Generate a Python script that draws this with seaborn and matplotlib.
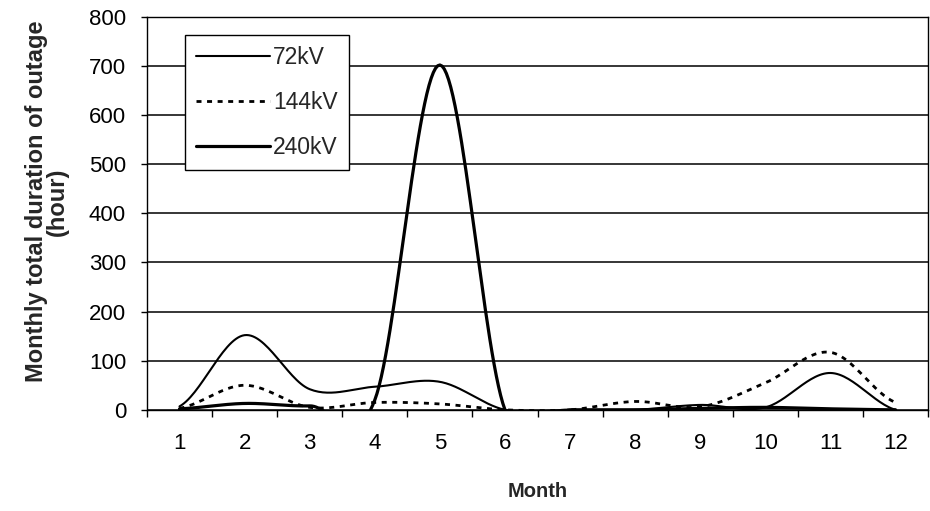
import numpy as np
import pandas as pd
import matplotlib
matplotlib.use("Agg")
import matplotlib.pyplot as plt
from matplotlib.ticker import MultipleLocator, FixedLocator
import seaborn as sns

# Monthly total duration of outage (hours) per voltage level
months = [1, 2, 3, 4, 5, 6, 7, 8, 9, 10, 11, 12]
hours_72kv = [7, 152, 42, 47, 57, 0, 0, 0, 10, 5, 75, 0]
hours_144kv = [3, 50, 5, 15, 12, 0, 0, 17, 6, 55, 117, 15]
hours_240kv = [2, 13, 8, 20, 702, 0, 0, 0, 3, 5, 2, 0]
series_names = ["72kV", "144kV", "240kV"]


def smooth_curve(x, y, steps=30):
    """Cardinal (Catmull-Rom) curve through every point, like a spreadsheet 'smoothed line'."""
    x = np.asarray(x, float)
    y = np.asarray(y, float)
    n = len(y)
    yp = np.concatenate([[y[0]], y, [y[-1]]])
    tangents = (yp[2:] - yp[:-2]) / 2.0
    xs, ys = [], []
    for i in range(n - 1):
        t = np.linspace(0, 1, steps, endpoint=(i == n - 2))
        h00 = 2 * t**3 - 3 * t**2 + 1
        h10 = t**3 - 2 * t**2 + t
        h01 = -2 * t**3 + 3 * t**2
        h11 = t**3 - t**2
        xs.append(x[i] + t * (x[i + 1] - x[i]))
        ys.append(h00 * y[i] + h10 * tangents[i] + h01 * y[i + 1] + h11 * tangents[i + 1])
    return np.concatenate(xs), np.concatenate(ys)


sns.set_theme(style="white")
plt.rcParams["font.family"] = ["Liberation Sans", "DejaVu Sans"]
plt.rcParams["lines.solid_capstyle"] = "round"

fig = plt.figure(figsize=(9.3, 5.11), dpi=100)
ax = fig.add_axes([0.158, 0.198, 0.840, 0.769])

styles = {
    "72kV": dict(lw=1.5, ls="-"),
    "144kV": dict(lw=2.0, ls=(0, (1.8, 2.0))),
    "240kV": dict(lw=2.3, ls="-"),
}
for name, vals in zip(series_names, [hours_72kv, hours_144kv, hours_240kv]):
    sx, sy = smooth_curve(months, vals)
    df = pd.DataFrame({"Month": sx, "hours": sy})
    sns.lineplot(data=df, x="Month", y="hours", ax=ax, color="black",
                 linewidth=styles[name]["lw"], linestyle=styles[name]["ls"],
                 label=name, sort=False, estimator=None)

ax.set_xlim(0.5, 12.5)
ax.set_ylim(0, 800)

ax.yaxis.set_major_locator(MultipleLocator(100))
ax.grid(axis="y", color="black", linewidth=1.1)
ax.grid(axis="x", visible=False)
ax.set_axisbelow(True)

ax.xaxis.set_major_locator(FixedLocator(months))
ax.xaxis.set_minor_locator(FixedLocator(np.arange(0.5, 13, 1)))
ax.tick_params(axis="x", which="major", length=0, pad=17, labelsize=16, colors="black")
ax.tick_params(axis="x", which="minor", length=5, width=1, direction="out", color="black", bottom=True)
ax.tick_params(axis="y", which="major", length=4, width=1, direction="out", pad=11,
               labelsize=16, colors="black", left=True)

for sp in ax.spines.values():
    sp.set_color("black")
    sp.set_linewidth(1.0)

ax.set_xlabel("Month", fontsize=14.5, fontweight="bold", labelpad=20)
ax.set_ylabel("Monthly total duration of outage\n(hour)", fontsize=17, fontweight="bold",
              linespacing=0.9)
ax.yaxis.set_label_coords(-0.100, 0.53)

leg = ax.legend(loc="upper left", bbox_to_anchor=(0.0487, 0.954), frameon=True, fancybox=False,
                edgecolor="black", framealpha=1, fontsize=16.5, handlelength=3.2,
                handletextpad=0.15, labelspacing=0.95, borderpad=0.5, borderaxespad=0)
leg.get_frame().set_linewidth(1.0)

fig.savefig("out.png", dpi=100, facecolor="white")
